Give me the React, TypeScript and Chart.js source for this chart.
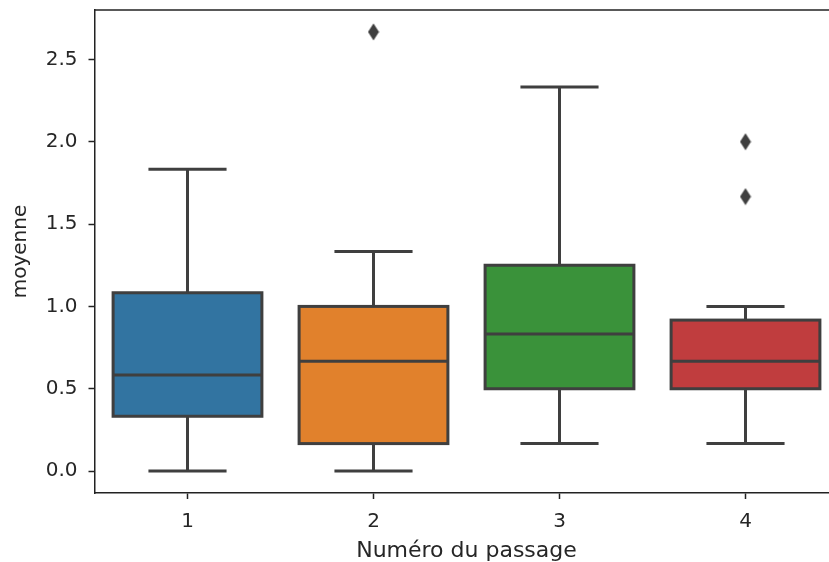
import React, { useEffect, useRef } from 'react';
import { Chart, registerables } from 'chart.js';

Chart.register(...registerables);

// ---- data ----
const categories = ['1', '2', '3', '4'];
const q1 = [0.333, 0.167, 0.5, 0.5];
const medians = [0.583, 0.667, 0.833, 0.667];
const q3 = [1.083, 1.0, 1.25, 0.917];
const whiskerLow = [0, 0, 0.167, 0.167];
const whiskerHigh = [1.833, 1.333, 2.333, 1.0];
const outlierCats = ['2', '4', '4'];
const outlierVals = [2.667, 1.667, 2.0];
const yTicks = [0, 0.5, 1.0, 1.5, 2.0, 2.5];
const boxColors = ['#3274a1', '#e1812c', '#3a923a', '#c03d3e'];

const xTitle = 'Numéro du passage';
const yTitle = 'moyenne';

const lineColor = '#3f3f3f';
const axisColor = '#222222';
const textColor = '#262626';
const FONT = "'DejaVu Sans', sans-serif";

function makeDiamond(): HTMLCanvasElement {
  const c = document.createElement('canvas');
  c.width = 12;
  c.height = 18;
  const g = c.getContext('2d')!;
  g.fillStyle = lineColor;
  g.beginPath();
  g.moveTo(6, 0.5);
  g.lineTo(11.5, 9);
  g.lineTo(6, 17.5);
  g.lineTo(0.5, 9);
  g.closePath();
  g.fill();
  return c;
}

const boxExtras = {
  id: 'boxExtras',
  afterDatasetsDraw(chart: any) {
    const { ctx, chartArea } = chart;
    const x = chart.scales.x;
    const y = chart.scales.y;
    const step = x.getPixelForValue(1) - x.getPixelForValue(0);
    const halfBox = step * 0.4;
    const halfCap = step * 0.21;
    const line = (x1: number, y1: number, x2: number, y2: number) => {
      ctx.beginPath();
      ctx.moveTo(x1, y1);
      ctx.lineTo(x2, y2);
      ctx.stroke();
    };
    ctx.save();
    ctx.strokeStyle = lineColor;
    ctx.lineWidth = 3;
    ctx.lineCap = 'butt';
    ctx.lineJoin = 'miter';
    categories.forEach((_, i) => {
      const cx = x.getPixelForValue(i);
      const yHi = y.getPixelForValue(whiskerHigh[i]);
      const yLo = y.getPixelForValue(whiskerLow[i]);
      const yQ3 = y.getPixelForValue(q3[i]);
      const yQ1 = y.getPixelForValue(q1[i]);
      // box outline (centred on the box edges)
      ctx.strokeRect(cx - halfBox, yQ3, halfBox * 2, yQ1 - yQ3);
      // whiskers and caps
      line(cx, yQ3, cx, yHi);
      line(cx, yQ1, cx, yLo);
      line(cx - halfCap, yHi, cx + halfCap, yHi);
      line(cx - halfCap, yLo, cx + halfCap, yLo);
      // median
      const ym = y.getPixelForValue(medians[i]);
      line(cx - halfBox, ym, cx + halfBox, ym);
    });
    ctx.strokeStyle = axisColor;
    ctx.lineWidth = 1.5;
    line(chartArea.left, chartArea.top, chartArea.right, chartArea.top);
    ctx.restore();
  },
};

export default function App() {
  const ref = useRef<HTMLCanvasElement>(null);

  useEffect(() => {
    const canvas = ref.current!;
    const diamond = makeDiamond();
    const chart = new Chart(canvas, {
      type: 'bar',
      data: {
        labels: categories,
        datasets: [
          {
            type: 'bar',
            data: categories.map((_, i) => [q1[i], q3[i]]) as any,
            backgroundColor: boxColors,
            borderWidth: 0,
            borderSkipped: false,
            barPercentage: 0.8,
            categoryPercentage: 1,
            order: 2,
          },
          {
            type: 'line',
            data: outlierCats.map((c, i) => ({ x: c, y: outlierVals[i] })) as any,
            showLine: false,
            pointStyle: diamond as any,
            pointRadius: 6,
            pointHoverRadius: 6,
            borderColor: lineColor,
            backgroundColor: lineColor,
            order: 1,
          },
        ],
      },
      options: {
        responsive: false,
        devicePixelRatio: 1,
        animation: false,
        events: [],
        layout: { padding: { top: 10, right: 11.5, left: 0, bottom: 0 } },
        plugins: {
          legend: { display: false },
          tooltip: { enabled: false },
        },
        scales: {
          x: {
            type: 'category',
            offset: true,
            afterFit: (s: any) => {
              s.height = 69;
              s.paddingLeft = 0;
              s.paddingRight = 0;
            },
            grid: {
              display: true,
              drawOnChartArea: false,
              drawTicks: true,
              tickLength: 6,
              offset: false,
              color: axisColor,
              tickWidth: 1.5,
            },
            border: { display: true, color: axisColor, width: 1.5 },
            ticks: {
              color: textColor,
              padding: 11,
              font: { family: FONT, size: 20 },
            },
            title: {
              display: true,
              text: xTitle,
              color: textColor,
              font: { family: FONT, size: 22, lineHeight: 1 },
              padding: { top: 0, bottom: 0 },
            },
          },
          y: {
            type: 'linear',
            min: -0.133,
            max: 2.8,
            afterFit: (s: any) => {
              s.width = 94.5;
              s.paddingTop = 0;
              s.paddingBottom = 0;
            },
            afterBuildTicks: (s: any) => {
              s.ticks = yTicks.map((v) => ({ value: v }));
            },
            grid: {
              display: true,
              drawOnChartArea: false,
              drawTicks: true,
              tickLength: 6,
              color: axisColor,
              tickWidth: 1.5,
            },
            border: { display: true, color: axisColor, width: 1.5 },
            ticks: {
              color: textColor,
              padding: 11,
              font: { family: FONT, size: 20 },
              callback: (v: any) => Number(v).toFixed(1),
            },
            title: {
              display: true,
              text: yTitle,
              color: textColor,
              font: { family: FONT, size: 20, lineHeight: 1 },
              padding: { top: 11, bottom: 0 },
            },
          },
        },
      },
      plugins: [boxExtras],
    });
    return () => chart.destroy();
  }, []);

  return (
    <div
      style={{
        position: 'fixed',
        left: 0,
        top: 0,
        width: 829,
        height: 562,
        overflow: 'hidden',
        background: '#ffffff',
      }}
    >
      <canvas ref={ref} width={850} height={562} style={{ display: 'block', width: 850, height: 562 }} />
    </div>
  );
}
